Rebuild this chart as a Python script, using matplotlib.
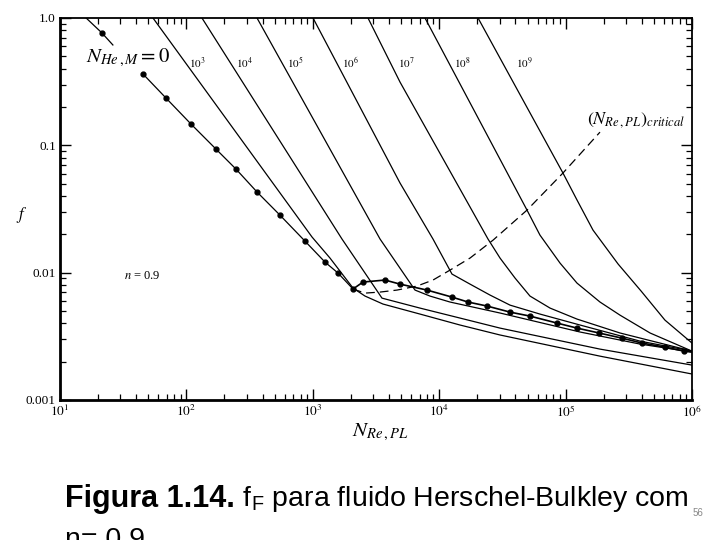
import matplotlib
matplotlib.use('Agg')
import matplotlib.pyplot as plt

plt.rcParams['font.family'] = ['Liberation Serif', 'DejaVu Serif']
plt.rcParams['mathtext.fontset'] = 'stix'

# ---------------- data ----------------
# laminar line, N_He,M = 0 (upper short segment above the label)
lam_top_re = [16.1, 21.5, 26.2]
lam_top_f = [1.0, 0.762, 0.614]
# laminar line, N_He,M = 0
lam_re = [45.4, 69.0, 108.7, 171.3, 246.7, 362, 550, 867, 1250, 1583, 2080]
lam_f = [0.363, 0.235, 0.147, 0.0935, 0.0651, 0.0430, 0.0283, 0.0177, 0.0121, 0.00993, 0.00744]
# turbulent line, N_He,M = 0
turb0_re = [2080, 2496, 3725, 4897, 8005, 12620, 16900, 23890, 36340, 52260,
            85500, 123100, 183800, 279200, 402000, 611000, 864900, 1e6]
turb0_f = [0.00744, 0.00844, 0.00875, 0.00813, 0.0073, 0.00643, 0.00588, 0.00547, 0.0049, 0.00456,
           0.00402, 0.00367, 0.00336, 0.00306, 0.0028, 0.0026, 0.00242, 0.00238]
# critical Reynolds number line
crit_re = [2080, 2589, 3404, 4637, 6675, 8931, 12170, 17530, 26660, 49510, 95300, 187100]
crit_f = [0.00744, 0.00691, 0.00704, 0.0073, 0.00785, 0.00875, 0.01047, 0.01302, 0.0180, 0.0310, 0.0606, 0.127]

# Hedstrom-number curves
he3_re = [54.4, 986, 1368, 2080, 2589, 3589, 7047, 14610, 30290, 187100, 1e6]
he3_f = [1.0, 0.01905, 0.01302, 0.00757, 0.00655, 0.00567, 0.00473, 0.00388, 0.00324, 0.00221, 0.0016]
he4_re = [132.8, 1702, 3527, 7047, 14610, 30290, 187100, 1e6]
he4_f = [1.0, 0.01837, 0.00631, 0.00527, 0.0044, 0.00367, 0.00251, 0.00188]
he5_re = [362, 3404, 6436, 8453, 12170, 30290, 130000, 387800, 1e6]
he5_f = [1.0, 0.01837, 0.0073, 0.00655, 0.00588, 0.00482, 0.00342, 0.00275, 0.00238]
he6_re = [1004, 4897, 8931, 12620, 17530, 25230, 36340, 62660, 130000, 387800, 1e6]
he6_f = [1.0, 0.0506, 0.01837, 0.00975, 0.00813, 0.00667, 0.00556, 0.00473, 0.00388, 0.0029, 0.00242]
he7_re = [2733, 4897, 24330, 30290, 39810, 52260, 75340, 123100, 269300, 1e6]
he7_f = [1.0, 0.314, 0.01837, 0.01302, 0.00907, 0.00655, 0.00527, 0.00432, 0.00336, 0.00242]
he8_re = [7720, 49510, 62660, 90360, 123100, 187100, 269300, 465600, 1e6]
he8_f = [1.0, 0.031, 0.01974, 0.01189, 0.00828, 0.00588, 0.00464, 0.00336, 0.00242]
he9_re = [20290, 95300, 123100, 164700, 260200, 395700, 611000, 1e6]
he9_f = [1.0, 0.0606, 0.0372, 0.0216, 0.01169, 0.00717, 0.00424, 0.0028]

he_exponents = [3, 4, 5, 6, 7, 8, 9]

x_ticks = [1e1, 1e2, 1e3, 1e4, 1e5, 1e6]
x_ticklabels = [r'$10^{1}$', r'$10^{2}$', r'$10^{3}$', r'$10^{4}$', r'$10^{5}$', r'$10^{6}$']
y_ticks = [0.001, 0.01, 0.1, 1.0]
y_ticklabels = ['0.001', '0.01', '0.1', '1.0']

# ---------------- figure ----------------
fig = plt.figure(figsize=(7.2, 5.4), dpi=100)
ax = fig.add_axes([60 / 720, 1 - 400 / 540, 632 / 720, 382 / 540])
ax.set_xscale('log')
ax.set_yscale('log')
ax.set_xlim(1e1, 1e6)
ax.set_ylim(1e-3, 1.0)

lw = 0.9
ax.plot(lam_top_re, lam_top_f, color='k', lw=lw, marker='o', ms=3.5, markevery=[1])
ax.plot(lam_re, lam_f, color='k', lw=lw, marker='o', ms=3.5)
ax.plot(turb0_re, turb0_f, color='k', lw=lw + 0.3, marker='o', ms=3.5,
        markevery=list(range(1, len(turb0_re) - 1)))
ax.plot(crit_re, crit_f, color='k', lw=lw, ls=(0, (7, 4)))

for re_, f_ in [(he3_re, he3_f), (he4_re, he4_f), (he5_re, he5_f), (he6_re, he6_f),
                (he7_re, he7_f), (he8_re, he8_f), (he9_re, he9_f)]:
    ax.plot(re_, f_, color='k', lw=lw)

# labels of the Hedstrom curves
he_label_pos = [121, 286, 723, 1968, 5458, 15140, 46880]
for x, e in zip(he_label_pos, he_exponents):
    ax.text(x, 0.443, r'$10^{%d}$' % e, fontsize=8, ha='center', va='center')

ax.text(16.0, 0.49, r'$N_{He\,,M}=0$', fontsize=15, ha='left', va='center')
ax.text(44.6, 0.0094, r'$n$ = 0.9', fontsize=9, ha='center', va='center')
ax.text(147600, 0.158, r'$(N_{Re\,,PL})_{critical}$', fontsize=13, ha='left', va='center')

ax.set_xticks(x_ticks)
ax.set_xticklabels(x_ticklabels)
ax.set_yticks(y_ticks)
ax.set_yticklabels(y_ticklabels)
ax.tick_params(which='both', direction='in', top=True, right=True, labelsize=9.5, pad=3)
ax.tick_params(which='major', length=8, width=1.0)
ax.tick_params(which='minor', length=4, width=0.9)
for s in ax.spines.values():
    s.set_linewidth(1.3)
ax.spines['left'].set_linewidth(2.0)
ax.spines['bottom'].set_linewidth(2.0)

fig.text(22 / 720, 1 - 215 / 540, r'$f$', fontsize=12, ha='center', va='center')
fig.text(380 / 720, 1 - 432 / 540, r'$N_{Re\,,PL}$', fontsize=15, ha='center', va='center')

# caption
sans = ['Liberation Sans', 'DejaVu Sans']
t1 = fig.text(65 / 720, 1 - 507 / 540, 'Figura 1.14.', fontweight='bold', va='baseline',
              family=sans, fontsize=22)
ax.annotate(r' $\mathregular{f_F}$ para fluido Herschel-Bulkley com', xy=(1, 0), xycoords=t1,
            xytext=(0, 0), textcoords='offset points', va='bottom', ha='left',
            annotation_clip=False, family=sans, fontsize=20.5)
fig.text(65 / 720, 1 - 546 / 540, 'n= 0,9', va='baseline', family=sans, fontsize=20.5)
fig.text(698 / 720, 1 - 513 / 540, '56', fontsize=7, color='#888888', ha='center', va='center',
         family=sans)

fig.savefig('out.png', dpi=100)
